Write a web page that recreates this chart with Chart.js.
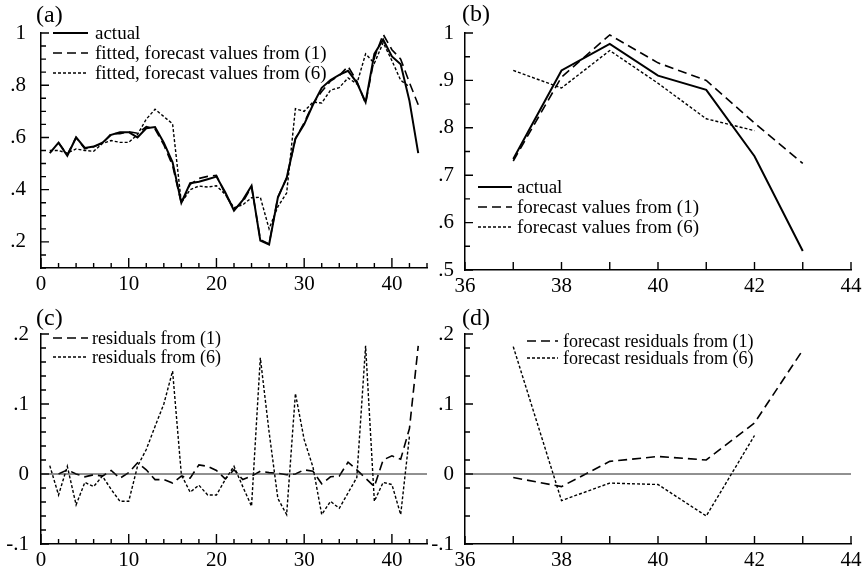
<!DOCTYPE html>
<html lang="en">
<head>
  <meta charset="UTF-8" />
  <title>Actual, fitted and forecast values with residuals</title>
  <style>
    body {
      margin: 0;
      background: #fff;
    }
    #wrap {
      position: relative;
      width: 866px;
      height: 576px;
    }
    canvas {
      position: absolute;
      left: 0;
      top: 0;
    }
  </style>
</head>
<body>
  <div id="wrap">
    <canvas id="ca" width="866" height="576"></canvas>
    <canvas id="cb" width="866" height="576"></canvas>
    <canvas id="cc" width="866" height="576"></canvas>
    <canvas id="cd" width="866" height="576"></canvas>
  </div>

  <script src="https://cdn.jsdelivr.net/npm/chart.js"></script>
  <script>
    // panel (a) / (c): whole sample, t = 1..43
    const tAll = [1, 2, 3, 4, 5, 6, 7, 8, 9, 10, 11, 12, 13, 14, 15, 16, 17, 18, 19, 20, 21, 22,
      23, 24, 25, 26, 27, 28, 29, 30, 31, 32, 33, 34, 35, 36, 37, 38, 39, 40, 41, 42, 43];
    const actual = [0.54, 0.58, 0.53, 0.60, 0.56, 0.565, 0.58, 0.61, 0.62, 0.62, 0.60, 0.635, 0.64,
      0.58, 0.505, 0.35, 0.425, 0.43, 0.44, 0.45, 0.39, 0.32, 0.36, 0.415, 0.205, 0.19, 0.37, 0.445,
      0.595, 0.65, 0.725, 0.79, 0.82, 0.84, 0.855, 0.81, 0.735, 0.92, 0.975, 0.91, 0.88, 0.74, 0.54];
    const fitted1 = [null, 0.58, 0.535, 0.60, 0.556, 0.564, 0.577, 0.615, 0.614, 0.622, 0.616, 0.641,
      0.632, 0.572, 0.492, 0.347, 0.42, 0.443, 0.451, 0.455, 0.383, 0.325, 0.352, 0.412, 0.209, 0.192,
      0.371, 0.444, 0.595, 0.656, 0.729, 0.776, 0.816, 0.837, 0.872, 0.816, 0.73, 0.905, 0.995, 0.936,
      0.90, 0.81, 0.725];
    const fitted6 = [0.55, 0.55, 0.54, 0.556, 0.55, 0.547, 0.577, 0.588, 0.581, 0.581, 0.611, 0.67,
      0.708, 0.68, 0.652, 0.35, 0.40, 0.414, 0.41, 0.415, 0.382, 0.331, 0.342, 0.369, 0.371, 0.25,
      0.335, 0.387, 0.71, 0.70, 0.735, 0.732, 0.781, 0.791, 0.828, 0.805, 0.92, 0.884, 0.963, 0.894,
      0.819, 0.794, null];
    const resid1 = [null, 0.0, 0.006, 0.0, -0.004, -0.001, -0.003, 0.005, -0.006, 0.002, 0.016, 0.006,
      -0.008, -0.008, -0.013, -0.003, -0.006, 0.013, 0.011, 0.005, -0.007, 0.006, -0.008, -0.003,
      0.004, 0.002, 0.001, -0.001, 0.0, 0.006, 0.004, -0.014, -0.004, -0.003, 0.017, 0.006, -0.006,
      -0.018, 0.02, 0.026, 0.021, 0.065, 0.183];
    const resid6 = [0.012, -0.03, 0.011, -0.044, -0.012, -0.018, -0.003, -0.022, -0.039, -0.039, 0.011,
      0.035, 0.068, 0.10, 0.147, -0.001, -0.026, -0.016, -0.03, -0.03, -0.008, 0.011, -0.018, -0.046,
      0.166, 0.06, -0.035, -0.058, 0.115, 0.049, 0.01, -0.058, -0.039, -0.049, -0.027, -0.005, 0.183,
      -0.039, -0.012, -0.015, -0.058, 0.054, null];

    // panel (b) / (d): forecast period
    const tFc = [37, 38, 39, 40, 41, 42, 43];
    const actualFc = [0.734, 0.921, 0.977, 0.91, 0.88, 0.74, 0.54];
    const forecast1 = [0.73, 0.907, 0.996, 0.937, 0.90, 0.81, 0.725];
    const forecast6 = [0.921, 0.884, 0.963, 0.894, 0.819, 0.794, null];
    const fcResid1 = [-0.005, -0.018, 0.018, 0.025, 0.020, 0.073, 0.177];
    const fcResid6 = [0.182, -0.038, -0.013, -0.015, -0.060, 0.055, null];

    const FONT = 'Liberation Serif';
    Chart.defaults.font.family = FONT;
    Chart.defaults.color = '#000';

    const SOLID = { borderDash: [], borderWidth: 2 };
    const LONG = { borderDash: [9, 5], borderWidth: 1.6 };
    const SHORT = { borderDash: [3, 2], borderWidth: 1.4 };

    function pts(xs, ys) {
      return xs.map((x, i) => ({ x: x, y: ys[i] }));
    }

    function range(min, max, step) {
      const out = [];
      for (let v = min; v <= max + 1e-9; v += step) out.push(Math.round(v * 1000) / 1000);
      return out;
    }

    function fmt(v) {
      return String(Math.round(v * 100) / 100).replace(/^(-?)0\./, '$1.');
    }

    function axis(tickVals, major, fitSize, horizontal, pad) {
      return {
        type: 'linear',
        min: tickVals[0],
        max: tickVals[tickVals.length - 1],
        afterBuildTicks: s => { s.ticks = tickVals.map(v => ({ value: v })); },
        afterFit: s => { if (horizontal) s.height = fitSize; else s.width = fitSize; },
        ticks: {
          autoSkip: false,
          maxRotation: 0,
          padding: pad,
          color: '#000',
          font: { family: FONT, size: 21 },
          callback: v => Math.abs(v / major - Math.round(v / major)) < 1e-6 ? fmt(v) : ''
        },
        grid: { display: false },
        border: { display: true, color: '#000', width: 1.5 }
      };
    }

    // inward tick marks, zero line, panel tag and in-plot legend
    const paperPlugin = {
      id: 'paper',
      afterDraw(chart, args, o) {
        const ctx = chart.ctx, a = chart.chartArea;
        const xs = chart.scales.x, ys = chart.scales.y;

        ctx.save();
        ctx.strokeStyle = '#000';
        ctx.lineWidth = 1.4;
        ctx.setLineDash([]);
        ctx.beginPath();
        xs.ticks.forEach(t => {
          const px = xs.getPixelForValue(t.value);
          const len = t.label !== '' ? o.xMajor : o.xMinor;
          ctx.moveTo(px, a.bottom);
          ctx.lineTo(px, a.bottom - len);
        });
        ctx.stroke();
        ctx.beginPath();
        ys.ticks.forEach(t => {
          const py = ys.getPixelForValue(t.value);
          const len = t.label !== '' ? 8 : 5;
          ctx.moveTo(a.left, py);
          ctx.lineTo(a.left + len, py);
        });
        ctx.stroke();
        ctx.restore();

        ctx.save();
        if (o.zero) {
          const py = ys.getPixelForValue(0);
          ctx.lineWidth = 1;
          ctx.strokeStyle = '#222';
          ctx.beginPath();
          ctx.moveTo(a.left, py);
          ctx.lineTo(a.right, py);
          ctx.stroke();
        }

        ctx.fillStyle = '#000';
        ctx.textBaseline = 'middle';
        ctx.textAlign = 'left';
        ctx.font = '24px "' + FONT + '"';
        ctx.fillText(o.tag, o.tagX, o.tagY);

        const lg = o.legend;
        ctx.font = lg.size + 'px "' + FONT + '"';
        chart.data.datasets.forEach((d, i) => {
          const y = lg.rows[i];
          ctx.strokeStyle = '#000';
          ctx.lineWidth = d.borderWidth;
          ctx.setLineDash(d.borderDash);
          ctx.beginPath();
          ctx.moveTo(lg.x0, y);
          ctx.lineTo(lg.x1, y);
          ctx.stroke();
          ctx.fillText(d.label, lg.tx, y + 1);
        });
        ctx.restore();
      }
    };

    function panel(id, datasets, xTicks, xMajor, yTicks, yMajor, yWidth, yPad, pad, opts) {
      return new Chart(document.getElementById(id), {
        type: 'line',
        data: { datasets: datasets },
        plugins: [paperPlugin],
        options: {
          responsive: false,
          animation: false,
          devicePixelRatio: 1,
          events: [],
          layout: { padding: pad },
          elements: {
            point: { radius: 0 },
            line: { tension: 0, borderColor: '#000', borderJoinStyle: 'miter', fill: false }
          },
          scales: {
            x: axis(xTicks, xMajor, 30, true, -4),
            y: axis(yTicks, yMajor, yWidth, false, yPad)
          },
          plugins: {
            legend: { display: false },
            tooltip: { enabled: false },
            paper: opts
          }
        }
      });
    }

    function ds(label, xs, ys, style) {
      return Object.assign({ label: label, data: pts(xs, ys), borderColor: '#000' }, style);
    }

    panel('ca', [
      ds('actual', tAll, actual, SOLID),
      ds('fitted, forecast values from (1)', tAll, fitted1, LONG),
      ds('fitted, forecast values from (6)', tAll, fitted6, SHORT)
    ], range(0, 44, 2), 10, range(0.1, 1.0, 0.05), 0.2, 41, 7,
      { left: 0, top: 33, right: 439, bottom: 278 },
      { tag: '(a)', tagX: 36, tagY: 16, xMajor: 10, xMinor: 5, zero: false,
        legend: { x0: 53, x1: 88, tx: 95, rows: [33, 53, 73], size: 19 } });

    panel('cb', [
      ds('actual', tFc, actualFc, SOLID),
      ds('forecast values from (1)', tFc, forecast1, LONG),
      ds('forecast values from (6)', tFc, forecast6, SHORT)
    ], range(36, 44, 1), 2, range(0.5, 1.0, 0.05), 0.1, 45, 3,
      { left: 420, top: 33, right: 15, bottom: 276 },
      { tag: '(b)', tagX: 462, tagY: 15, xMajor: 8, xMinor: 8, zero: false,
        legend: { x0: 478, x1: 512, tx: 517, rows: [187, 207, 227], size: 19 } });

    panel('cc', [
      ds('residuals from (1)', tAll, resid1, LONG),
      ds('residuals from (6)', tAll, resid6, SHORT)
    ], range(0, 44, 2), 10, range(-0.1, 0.2, 0.02), 0.1, 41, 4,
      { left: 0, top: 334, right: 439, bottom: 2 },
      { tag: '(c)', tagX: 36, tagY: 319, xMajor: 10, xMinor: 5, zero: true,
        legend: { x0: 53, x1: 88, tx: 92, rows: [338, 357], size: 18 } });

    panel('cd', [
      ds('forecast residuals from (1)', tFc, fcResid1, LONG),
      ds('forecast residuals from (6)', tFc, fcResid6, SHORT)
    ], range(36, 44, 1), 2, [-0.1, -0.06, -0.02, 0, 0.02, 0.06, 0.1, 0.14, 0.18, 0.2], 0.1, 45, 3,
      { left: 420, top: 334, right: 15, bottom: 2 },
      { tag: '(d)', tagX: 462, tagY: 319, xMajor: 8, xMinor: 8, zero: true,
        legend: { x0: 527, x1: 558, tx: 563, rows: [341, 358], size: 18 } });
  </script>
</body>
</html>
